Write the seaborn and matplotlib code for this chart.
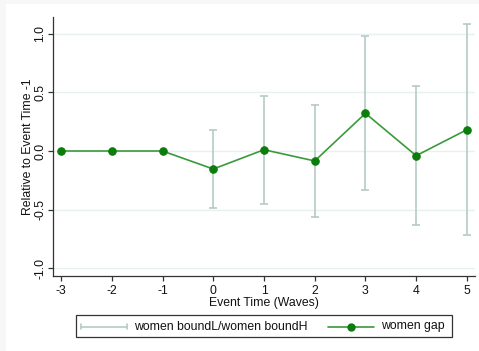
import matplotlib
matplotlib.use("Agg")
import matplotlib.pyplot as plt
import matplotlib.patches as mpatches
from matplotlib.lines import Line2D
import seaborn as sns
import pandas as pd

# Event-study estimates for women, relative to event time -1
event_time = [-3, -2, -1, 0, 1, 2, 3, 4, 5]
women_gap = [0.0, 0.0, 0.0, -0.154, 0.011, -0.085, 0.322, -0.040, 0.182]
women_boundL = [None, None, None, -0.49, -0.453, -0.567, -0.330, -0.632, -0.720]
women_boundH = [None, None, None, 0.18, 0.473, 0.396, 0.980, 0.556, 1.085]
y_ticks = [-1.0, -0.5, 0.0, 0.5, 1.0]
legend_labels = ["women boundL/women boundH", "women gap"]

df = pd.DataFrame({"t": event_time, "gap": women_gap,
                   "lo": women_boundL, "hi": women_boundH})

sns.set_style("white")
plt.rcParams["font.family"] = ["Liberation Sans", "DejaVu Sans"]

ci_color = "#b4cbc8"
line_color = "#3a9a3a"
marker_color = "#0a7d0a"
ink = "#333333"
fs = 8.8

W, H = 479, 351
fig = plt.figure(figsize=(W / 100, H / 100), dpi=100)
fig.patch.set_facecolor("#f7f7f7")
fig.add_artist(mpatches.Rectangle((6 / W, 0), 1, 1 - 4 / H,
                                  transform=fig.transFigure,
                                  facecolor="white", edgecolor="none", zorder=-1))
ax = fig.add_axes([53 / W, 1 - 276 / H, (475 - 53) / W, (276 - 17) / H])
ax.set_facecolor("white")

# confidence bands as capped vertical spikes
ci = df.dropna()
ax.errorbar(ci["t"], (ci["lo"] + ci["hi"]) / 2,
            yerr=(ci["hi"] - ci["lo"]) / 2, fmt="none",
            ecolor=ci_color, elinewidth=1.2, capsize=2.6, capthick=1.2, zorder=2)

sns.lineplot(data=df, x="t", y="gap", ax=ax, color=line_color, linewidth=1.2,
             marker="o", markersize=5.4, markerfacecolor=marker_color,
             markeredgecolor=marker_color, zorder=3)

ax.set_xlim(-3.16, 5.16)
ax.set_ylim(-1.068, 1.145)
ax.set_xticks(event_time)
ax.set_xticklabels([str(t) for t in event_time])
ax.set_yticks(y_ticks)
ax.set_yticklabels([f"{v:.1f}" for v in y_ticks], rotation=90, va="center")
for v in y_ticks:
    ax.axhline(v, color="#e8f0f0", linewidth=1.0, zorder=0)

for side in ("top", "right"):
    ax.spines[side].set_visible(False)
for side in ("left", "bottom"):
    ax.spines[side].set_color(ink)
    ax.spines[side].set_linewidth(0.9)
ax.tick_params(axis="both", which="both", direction="out", length=3.5, width=0.9,
               color=ink, labelsize=fs, labelcolor="#111111")
ax.tick_params(axis="x", pad=3)
ax.tick_params(axis="y", pad=1.5)
ax.tick_params(left=True, bottom=True)

ax.set_xlabel("Event Time (Waves)", fontsize=fs, labelpad=0, color="#111111")
ax.set_ylabel("Relative to Event Time -1", fontsize=fs, labelpad=0, color="#111111")

# legend box below the plot, laid out in figure pixels
def fx(px):
    return px / W

def fy(py):
    return 1 - py / H

fig.add_artist(mpatches.Rectangle((fx(76), fy(337)), fx(452) - fx(76), fy(315) - fy(337),
                                  transform=fig.transFigure, facecolor="white",
                                  edgecolor=ink, linewidth=0.9))
ly = fy(326.5)
fig.add_artist(Line2D([fx(81), fx(127)], [ly, ly], transform=fig.transFigure,
                      color=ci_color, linewidth=1.2))
for xc in (81, 127):
    fig.add_artist(Line2D([fx(xc), fx(xc)], [fy(324), fy(329)],
                          transform=fig.transFigure, color=ci_color, linewidth=1.2))
fig.text(fx(134), ly, legend_labels[0], fontsize=fs, va="center", ha="left",
         color="#111111")
fig.add_artist(Line2D([fx(328), fx(374)], [ly, ly], transform=fig.transFigure,
                      color=line_color, linewidth=1.2))
fig.add_artist(Line2D([fx(351)], [ly], transform=fig.transFigure, marker="o",
                      markersize=5.0, color=marker_color, linestyle="none"))
fig.text(fx(381), ly, legend_labels[1], fontsize=fs, va="center", ha="left",
         color="#111111")

fig.savefig("out.png", dpi=100)
